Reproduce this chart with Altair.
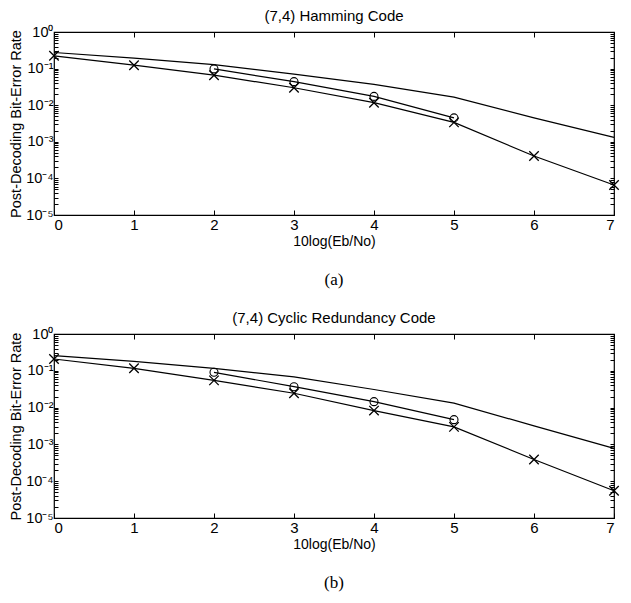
import altair as alt
import pandas as pd

# ---- data ----
x_vals = [0, 1, 2, 3, 4, 5, 6, 7]
circle_x = [2, 3, 4, 5]

ham_upper = [0.275, 0.193, 0.129, 0.071, 0.037, 0.0166, 0.0045, 0.00132]
ham_circle = [0.098, 0.044, 0.0174, 0.0045]
ham_cross = [0.224, 0.124, 0.066, 0.030, 0.0117, 0.0034, 0.00041, 0.000066]

crc_upper = [0.257, 0.18, 0.117, 0.068, 0.031, 0.0132, 0.0032, 0.00078]
crc_circle = [0.091, 0.037, 0.0145, 0.0047]
crc_cross = [0.209, 0.117, 0.055, 0.0245, 0.0083, 0.003, 0.00039, 0.000055]

titles = ["(7,4) Hamming Code", "(7,4) Cyclic Redundancy Code"]
captions = ["(a)", "(b)"]
x_title = "10log(Eb/No)"
y_title = "Post-Decoding Bit-Error Rate"

y_tick_values = [k * 10.0 ** e for e in range(-5, 0) for k in range(1, 10)] + [1.0]
decade_labels = {1.0: "10⁰", 0.1: "10⁻¹", 0.01: "10⁻²", 0.001: "10⁻³",
                 0.0001: "10⁻⁴", 0.00001: "10⁻⁵"}

FONT = "Liberation Sans"
W = 560


def label_expr():
    expr = "''"
    for v, lab in decade_labels.items():
        expr = f"abs(datum.value - {v!r}) < {v * 1e-6!r} ? '{lab}' : ({expr})"
    return expr


def make_df(upper, circ, cross):
    rows = []
    for x, v in zip(x_vals, upper):
        rows.append({"x": x, "ber": v, "series": "upper"})
    for x, v in zip(circle_x, circ):
        rows.append({"x": x, "ber": v, "series": "circle"})
    for x, v in zip(x_vals, cross):
        rows.append({"x": x, "ber": v, "series": "cross"})
    return pd.DataFrame(rows)


def panel(df, title, cap, h):
    xs = alt.Scale(domain=[0, 7], nice=False, zero=False)
    ys = alt.Scale(type="log", domain=[1e-5, 1], nice=False)
    xaxis = alt.Axis(orient="bottom", values=x_vals, offset=-5, tickSize=5,
                     domain=False, grid=False, labelPadding=2, labelFontSize=15,
                     labelFont=FONT, labelColor="black", tickColor="black",
                     title=x_title, titleFont=FONT, titleFontSize=14,
                     titleFontWeight="normal", titleColor="black", titlePadding=2)
    yaxis = alt.Axis(orient="left", values=y_tick_values, labelExpr=label_expr(),
                     offset=-4, tickSize=4, domain=False, grid=False,
                     labelPadding=1, labelOverlap=False, labelFontSize=14.5,
                     labelFont=FONT, labelColor="black", tickColor="black",
                     title=y_title, titleFont=FONT, titleFontSize=14.5,
                     titleFontWeight="normal", titleColor="black", titlePadding=2)
    X = alt.X("x:Q", scale=xs, axis=xaxis)
    Y = alt.Y("ber:Q", scale=ys, axis=yaxis)

    lines = alt.Chart(df).mark_line(color="black", strokeWidth=1.2).encode(
        x=X, y=Y, detail="series:N", order="x:Q")
    circ = alt.Chart(df).transform_filter(alt.datum.series == "circle").mark_point(
        shape="circle", filled=False, color="black", size=64, strokeWidth=1.1, opacity=1
    ).encode(x=X, y=Y)
    cross = alt.Chart(df).transform_filter(alt.datum.series == "cross").mark_point(
        shape="M-1,-1L1,1M-1,1L1,-1", filled=False, color="black", size=90,
        strokeWidth=1.3, opacity=1
    ).encode(x=X, y=Y)
    inner = alt.layer(lines, circ, cross)

    frame = alt.Chart(df).mark_line(opacity=0).encode(
        x=alt.X("x:Q", scale=xs,
                axis=alt.Axis(orient="top", values=x_vals, offset=-5, tickSize=5,
                              labels=False, domain=False, grid=False,
                              tickColor="black", title=None)),
        y=alt.Y("ber:Q", scale=ys,
                axis=alt.Axis(orient="right", values=y_tick_values, offset=-4,
                              tickSize=4, labels=False, domain=False, grid=False,
                              tickColor="black", title=None)),
        detail="series:N",
    )

    caption = alt.Chart(pd.DataFrame({"t": [cap]})).mark_text(
        font="Liberation Serif", fontSize=17, baseline="middle", align="center",
        color="black"
    ).encode(text="t:N", x=alt.value(W / 2), y=alt.value(h + 65))

    return alt.layer(inner, frame, caption).resolve_scale(
        x="independent", y="independent"
    ).properties(
        width=W, height=h,
        title=alt.TitleParams(title, font=FONT, fontSize=15, fontWeight="normal",
                              color="black", offset=0, anchor="middle"),
    )


top = panel(make_df(ham_upper, ham_circle, ham_cross), titles[0], captions[0], 183)
bottom = panel(make_df(crc_upper, crc_circle, crc_cross), titles[1], captions[1], 184)

chart = alt.vconcat(top, bottom, spacing=21).properties(
    padding={"left": 0, "right": 0, "top": 0, "bottom": 0},
    background="white",
).configure_view(stroke="black", strokeWidth=1.2)

chart.save("out.html", embed_options={"renderer": "svg", "actions": False})
